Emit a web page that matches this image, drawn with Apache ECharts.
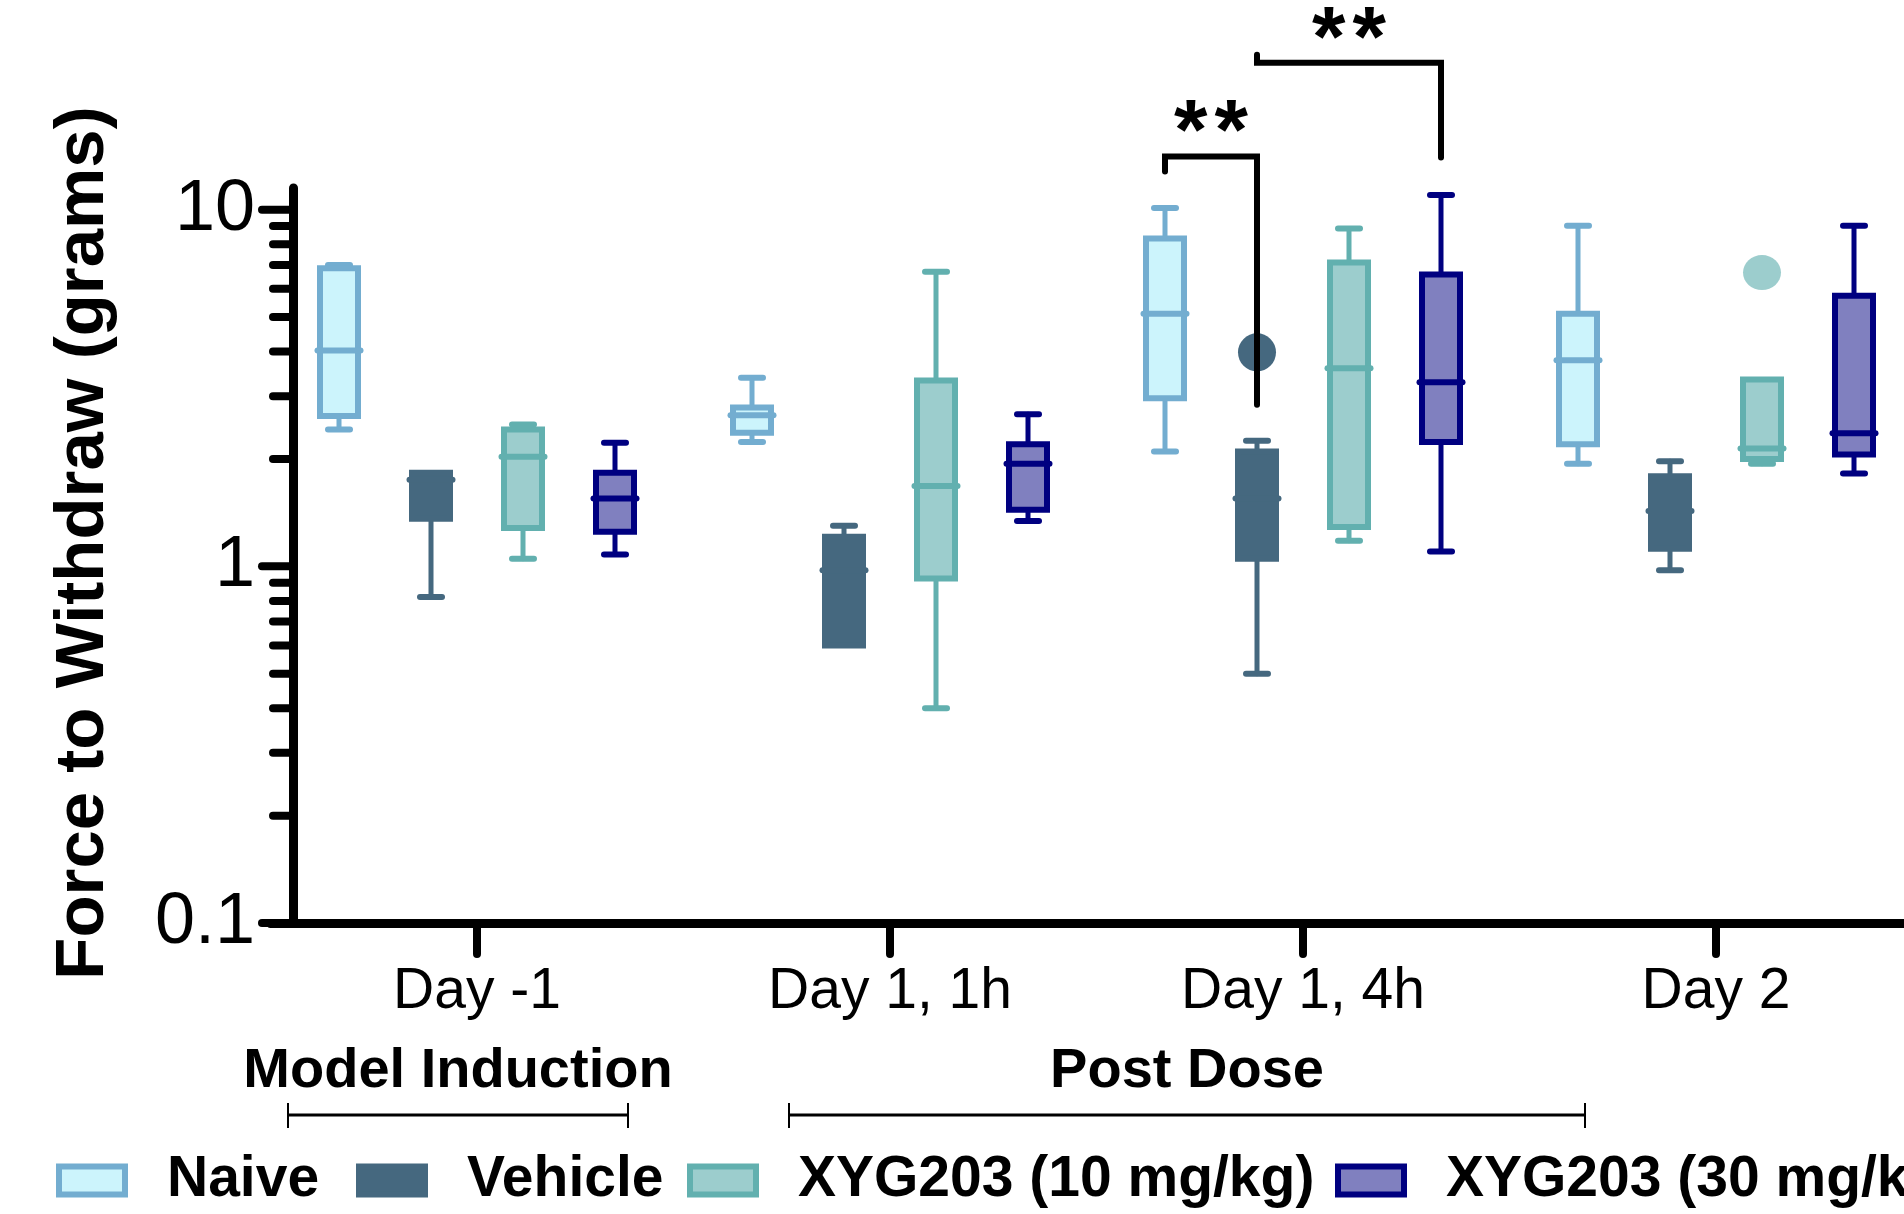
<!DOCTYPE html>
<html>
<head>
<meta charset="utf-8">
<title>Force to Withdraw</title>
<script src="https://cdn.jsdelivr.net/npm/echarts@6.0.0/dist/echarts.min.js"></script>
<style>
  html, body { margin: 0; padding: 0; background: #fff; }
  #chart { width: 1904px; height: 1214px; }
</style>
</head>
<body>
<div id="chart"></div>
<script>
const categories = ['Day -1', 'Day 1, 1h', 'Day 1, 4h', 'Day 2'];
const groups = ['Naive', 'Vehicle', 'XYG203 (10 mg/kg)', 'XYG203 (30 mg/kg)'];

// [min, q1, median, q3, max] for each category
const naive = [
  [2.42, 2.64, 4.03, 6.85, 7.0],
  [2.23, 2.37, 2.65, 2.79, 3.38],
  [2.10, 2.96, 5.11, 8.30, 10.1],
  [1.94, 2.20, 3.78, 5.11, 9.02]
];
const vehicle = [
  [0.82, 1.36, 1.75, 1.83, 1.83],
  [0.60, 0.60, 0.975, 1.21, 1.30],
  [0.50, 1.05, 1.55, 2.10, 2.25],
  [0.975, 1.12, 1.43, 1.79, 1.97]
];
const xyg10 = [
  [1.05, 1.28, 2.03, 2.42, 2.50],
  [0.40, 0.925, 1.68, 3.32, 6.70],
  [1.18, 1.29, 3.59, 7.11, 8.85],
  [1.94, 2.0, 2.14, 3.34, 3.34]
];
const xyg30 = [
  [1.08, 1.25, 1.55, 1.83, 2.22],
  [1.34, 1.44, 1.94, 2.20, 2.67],
  [1.10, 2.23, 3.28, 6.58, 11.0],
  [1.82, 2.06, 2.36, 5.74, 9.02]
];

// outliers: [category index, value]
const vehicleOutliers = [[2, 3.98]];
const xyg10Outliers = [[3, 6.66]];

// y ticks of the log axis
const yTicks = [0.1, 0.2, 0.3, 0.4, 0.5, 0.6, 0.7, 0.8, 0.9, 1, 2, 3, 4, 5, 6, 7, 8, 9, 10];
const yLabels = ['0.1', '1', '10'];

// significance brackets, drawn in data space of category "Day 1, 4h"
const sigBrackets = [
  { cat: 2, from: 0, to: 1, left: 12.8, top: 14.1, right: 2.84, label: '*\u200A*' },
  { cat: 2, from: 1, to: 3, left: 27.2, top: 25.8, right: 14.0, label: '*\u200A*' }
];

const FONT = '"Liberation Sans", Arial, Helvetica, sans-serif';
const strokes = ['#73ADD0', '#45687F', '#62B0AF', '#000080'];
const fills = ['#CCF4FC', '#45687F', '#9CCDCD', '#8080BF'];
const offsets = [-138, -46, 46, 138];
const AXIS_X = 293;

function boxRenderer(i) {
  return function (params, api) {
    const c = api.value(0);
    const yMin = api.coord([c, api.value(1)])[1];
    const yQ1 = api.coord([c, api.value(2)])[1];
    const pMed = api.coord([c, api.value(3)]);
    const yQ3 = api.coord([c, api.value(4)])[1];
    const yMax = api.coord([c, api.value(5)])[1];
    const x = pMed[0] + offsets[i];
    const half = 19, capHalf = 11, medHalf = 21.5;
    const line = { stroke: strokes[i], lineWidth: 5, lineCap: 'round' };
    const cap = { stroke: strokes[i], lineWidth: 6, lineCap: 'round' };
    const kids = [];
    if (yQ3 - yMax > 1) {
      kids.push({ type: 'line', shape: { x1: x, y1: yMax, x2: x, y2: yQ3 }, style: line });
      kids.push({ type: 'line', shape: { x1: x - capHalf, y1: yMax, x2: x + capHalf, y2: yMax }, style: cap });
    }
    if (yMin - yQ1 > 1) {
      kids.push({ type: 'line', shape: { x1: x, y1: yQ1, x2: x, y2: yMin }, style: line });
      kids.push({ type: 'line', shape: { x1: x - capHalf, y1: yMin, x2: x + capHalf, y2: yMin }, style: cap });
    }
    kids.push({
      type: 'rect',
      shape: { x: x - half, y: yQ3, width: half * 2, height: yQ1 - yQ3 },
      style: { fill: fills[i], stroke: strokes[i], lineWidth: 6 }
    });
    kids.push({ type: 'line', shape: { x1: x - medHalf, y1: pMed[1], x2: x + medHalf, y2: pMed[1] }, style: cap });
    return { type: 'group', children: kids };
  };
}

const boxData = [naive, vehicle, xyg10, xyg30];
const series = boxData.map((d, i) => ({
  name: groups[i],
  type: 'custom',
  coordinateSystem: 'cartesian2d',
  data: d.map((v, c) => [c].concat(v)),
  encode: { x: 0, y: [1, 2, 3, 4, 5] },
  itemStyle: { color: fills[i], borderColor: strokes[i], borderWidth: 6 },
  renderItem: boxRenderer(i),
  clip: false,
  silent: true,
  z: 2
}));

series.push({
  name: 'Vehicle', type: 'scatter', data: vehicleOutliers,
  symbol: 'circle', symbolSize: 38, symbolOffset: [offsets[1], 0],
  itemStyle: { color: fills[1], opacity: 1 }, silent: true, z: 3
});
series.push({
  name: 'XYG203 (10 mg/kg)', type: 'scatter', data: xyg10Outliers,
  symbol: 'circle', symbolSize: [38, 35], symbolOffset: [offsets[2], 0],
  itemStyle: { color: fills[2], opacity: 1 }, silent: true, z: 3
});

// log-axis ticks (major at decades, minor in between)
series.push({
  type: 'custom', name: 'yTicks',
  data: yTicks.map(v => [0, v]),
  encode: { x: 0, y: 1 },
  clip: false, silent: true, z: 4,
  renderItem: function (params, api) {
    const v = api.value(1);
    const y = api.coord([0, v])[1];
    const lg = Math.log10(v);
    const major = Math.abs(lg - Math.round(lg)) < 1e-6;
    const len = major ? 31 : 20;
    return {
      type: 'line',
      shape: { x1: AXIS_X - len, y1: y, x2: AXIS_X, y2: y },
      style: { stroke: '#000', lineWidth: 8, lineCap: 'round' }
    };
  }
});

series.push({
  type: 'custom', name: 'brackets',
  data: sigBrackets.map(b => [b.cat, b.top]),
  encode: { x: 0, y: 1 },
  clip: false, silent: true, z: 6,
  renderItem: function (params, api) {
    const b = sigBrackets[params.dataIndex];
    const cx = api.coord([b.cat, 1])[0];
    const x1 = cx + offsets[b.from];
    const x2 = cx + offsets[b.to];
    const yL = api.coord([b.cat, b.left])[1];
    const yT = api.coord([b.cat, b.top])[1];
    const yR = api.coord([b.cat, b.right])[1];
    return {
      type: 'group',
      children: [
        {
          type: 'polyline',
          shape: { points: [[x1, yL], [x1, yT], [x2, yT], [x2, yR]] },
          style: { stroke: '#000', lineWidth: 6, fill: null, lineCap: 'round', lineJoin: 'miter' }
        },
        {
          type: 'text', x: (x1 + x2) / 2, y: yT - 21,
          style: { text: b.label, fill: '#000', font: 'bold 86px ' + FONT, align: 'center', verticalAlign: 'middle' }
        }
      ]
    };
  }
});

const legendLeft = [56, 356, 687, 1335];

const chart = echarts.init(document.getElementById('chart'));
chart.setOption({
  animation: false,
  backgroundColor: '#fff',
  textStyle: { fontFamily: FONT },
  grid: { left: 270.5, right: -18.5, top: 188, bottom: 291, containLabel: false, outerBoundsMode: 'none' },
  xAxis: {
    type: 'category',
    data: categories,
    boundaryGap: true,
    axisLine: { onZero: false, lineStyle: { color: '#000', width: 9 } },
    axisTick: { show: true, alignWithLabel: true, length: 31, lineStyle: { color: '#000', width: 8, cap: 'round' } },
    axisLabel: { interval: 0, color: '#000', fontSize: 57, fontFamily: FONT, margin: 41 },
    splitLine: { show: false }
  },
  yAxis: {
    type: 'log',
    logBase: 10,
    min: 0.1,
    max: 11.5,
    offset: -22.5,
    axisLine: { show: true, onZero: false, lineStyle: { color: '#000', width: 9, cap: 'round' } },
    axisTick: { show: false },
    splitLine: { show: false },
    axisLabel: {
      color: '#000', fontSize: 72, fontFamily: FONT, margin: 38,
      formatter: function (v) {
        const s = String(+v.toPrecision(6));
        return yLabels.indexOf(s) >= 0 ? s : '';
      }
    }
  },
  legend: groups.map((g, i) => ({
    data: [{ name: g, icon: 'rect', itemStyle: { color: fills[i], borderColor: strokes[i], borderWidth: 6 } }],
    left: legendLeft[i],
    top: 1152,
    padding: 0,
    itemWidth: 66,
    itemHeight: 28,
    selectedMode: false,
    textStyle: { color: '#000', fontSize: 57, fontWeight: 'bold', fontFamily: FONT, padding: [0, 0, 0, 37] }
  })),
  graphic: [
    {
      type: 'text', x: 84, y: 543, rotation: Math.PI / 2,
      style: { text: 'Force to Withdraw (grams)', fill: '#000', font: 'bold 69px ' + FONT, align: 'center', verticalAlign: 'middle' }
    },
    {
      type: 'text', x: 458, y: 1072,
      style: { text: 'Model Induction', fill: '#000', font: 'bold 56px ' + FONT, align: 'center', verticalAlign: 'middle' }
    },
    {
      type: 'text', x: 1187, y: 1072,
      style: { text: 'Post Dose', fill: '#000', font: 'bold 56px ' + FONT, align: 'center', verticalAlign: 'middle' }
    },
    { type: 'line', shape: { x1: 288, y1: 1115, x2: 628, y2: 1115 }, style: { stroke: '#000', lineWidth: 3 } },
    { type: 'line', shape: { x1: 288, y1: 1103, x2: 288, y2: 1128 }, style: { stroke: '#000', lineWidth: 2 } },
    { type: 'line', shape: { x1: 628, y1: 1103, x2: 628, y2: 1128 }, style: { stroke: '#000', lineWidth: 2 } },
    { type: 'line', shape: { x1: 789, y1: 1115, x2: 1585, y2: 1115 }, style: { stroke: '#000', lineWidth: 3 } },
    { type: 'line', shape: { x1: 789, y1: 1103, x2: 789, y2: 1128 }, style: { stroke: '#000', lineWidth: 2 } },
    { type: 'line', shape: { x1: 1585, y1: 1103, x2: 1585, y2: 1128 }, style: { stroke: '#000', lineWidth: 2 } }
  ],
  series: series
});
</script>
</body>
</html>
